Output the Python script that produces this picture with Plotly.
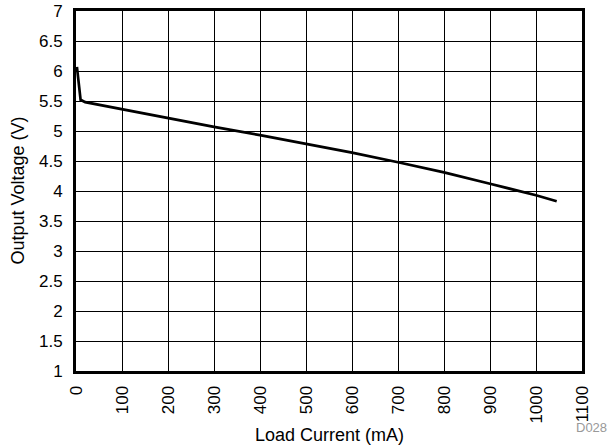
import plotly.graph_objects as go

load_current_ma = [2, 10, 20, 100, 200, 300, 400, 500, 600, 700, 800, 900, 1000, 1045]
output_voltage_v = [6.07, 5.52, 5.48, 5.36, 5.21, 5.07, 4.93, 4.79, 4.64, 4.48, 4.31, 4.12, 3.93, 3.83]

x_ticks = list(range(0, 1101, 100))
y_ticks = [1, 1.5, 2, 2.5, 3, 3.5, 4, 4.5, 5, 5.5, 6, 6.5, 7]

FAMILY = "Liberation Sans, Arial, sans-serif"

fig = go.Figure()
fig.add_trace(go.Scatter(x=load_current_ma, y=output_voltage_v, mode="lines",
                         line=dict(color="black", width=2.7), showlegend=False,
                         hoverinfo="skip"))

fig.update_layout(
    template="none",
    width=610, height=447,
    margin=dict(l=76, r=28, t=11, b=76, autoexpand=False),
    paper_bgcolor="white", plot_bgcolor="white",
    font=dict(family=FAMILY, size=17, color="black"),
    xaxis=dict(range=[0, 1100], tickvals=x_ticks, ticktext=[str(v) for v in x_ticks],
               tickangle=-90, showgrid=True, gridcolor="black", gridwidth=1,
               showline=True, linecolor="black", linewidth=3, mirror=True,
               ticks="outside", ticklen=5, tickcolor="rgba(0,0,0,0)", zeroline=False,
               automargin=False, tickfont=dict(size=17)),
    yaxis=dict(range=[1, 7], tickvals=y_ticks, ticktext=[f"{v:g}" for v in y_ticks],
               showgrid=True, gridcolor="black", gridwidth=1,
               showline=True, linecolor="black", linewidth=3, mirror=True,
               ticks="outside", ticklen=7, tickcolor="rgba(0,0,0,0)", zeroline=False,
               automargin=False, tickfont=dict(size=17)),
)
fig.add_annotation(text="Load Current (mA)", xref="paper", yref="paper", x=0.5, y=-0.178,
                   xanchor="center", yanchor="middle", showarrow=False,
                   font=dict(family=FAMILY, size=18, color="black"))
fig.add_annotation(text="Output Voltage (V)", xref="paper", yref="paper", x=-0.1156, y=0.5,
                   xanchor="center", yanchor="middle", showarrow=False, textangle=-90,
                   font=dict(family=FAMILY, size=18, color="black"))
fig.add_annotation(text="D028", xref="paper", yref="paper", x=1.053, y=-0.158,
                   xanchor="right", yanchor="middle", showarrow=False,
                   font=dict(family=FAMILY, size=13, color="#999999"))
fig.write_html("out.html", config={"displayModeBar": False},
               post_script="document.body.style.margin='0';")
